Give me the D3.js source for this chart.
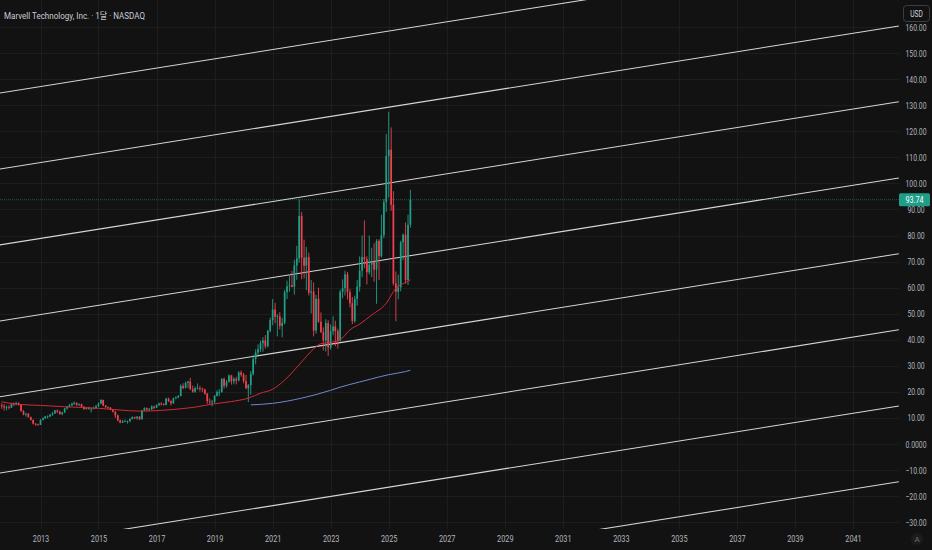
<!DOCTYPE html>
<html><head><meta charset="utf-8">
<script src="https://cdn.jsdelivr.net/npm/d3@7"></script>
<style>
html,body{margin:0;padding:0;background:#121212;overflow:hidden;}
svg{display:block;}
</style></head><body>
<svg id="chart" width="932" height="550"></svg>
<script>
// ---------------- DATA ----------------
const title = "Marvell Technology, Inc. · 1달 · NASDAQ";
const firstMonth = "2011-09-01";
const lastMonth = "2025-10-01";
const openValues = [
  14.9,14.5,14.0,14.2,
  13.9,15.5,15.2,15.7,15.0,12.6,11.3,11.6,10.3,9.2,7.8,7.6,
  7.3,9.3,9.9,10.6,10.6,11.2,11.7,12.9,12.4,11.5,12.1,13.6,
  14.4,14.9,15.4,15.8,15.1,15.3,14.3,13.4,13.9,13.5,13.5,13.8,
  14.5,15.5,16.9,14.7,14.1,13.9,13.2,12.4,11.0,9.1,8.2,8.7,
  8.8,8.8,9.6,10.3,9.9,10.5,9.5,12.9,13.8,13.3,13.3,14.4,
  13.9,14.9,15.5,15.3,15.0,17.4,16.5,15.6,17.6,17.9,18.4,22.3,
  21.5,23.4,23.9,21.0,20.1,21.4,21.4,21.2,20.9,19.3,16.4,16.2,
  16.2,18.5,19.9,19.9,25.0,22.3,23.9,26.3,24.0,25.0,24.4,27.4,
  26.6,24.1,21.4,22.6,26.9,32.6,35.1,36.4,38.7,39.7,37.5,43.4,
  47.5,51.6,48.9,49.0,45.3,46.4,58.3,60.5,60.9,60.3,68.5,71.2,
  87.5,71.4,68.4,71.7,58.1,58.5,43.5,55.7,46.9,42.9,39.7,46.4,
  37.0,43.2,45.1,43.3,39.5,58.4,59.8,65.1,58.3,54.0,47.2,55.7,
  60.3,66.5,71.7,70.9,65.9,68.8,69.9,66.9,77.9,72.1,80.1,92.8,
  110.5,112.9,91.8,61.6,58.4,60.1,77.4,80.3,62.9,84.1
];
const highValues = [
  15.6,15.3,14.8,14.9,
  15.8,16.0,16.2,16.0,15.2,13.0,12.0,11.9,10.5,9.4,8.0,7.8,
  9.5,10.2,10.8,11.0,11.6,12.3,13.1,13.2,12.8,12.3,13.9,14.6,
  15.4,15.9,16.3,16.0,15.6,15.5,14.6,14.2,14.3,13.9,14.3,15.0,
  16.0,17.2,17.0,15.0,14.4,14.2,13.4,12.6,11.3,9.4,9.2,9.4,
  9.0,9.8,10.6,10.5,10.7,10.7,13.1,14.1,14.0,13.8,14.8,14.7,
  15.2,15.9,16.0,15.7,17.8,17.8,16.7,17.8,18.3,18.8,22.9,23.3,
  24.0,24.3,25.4,22.4,22.0,23.2,22.3,21.6,21.2,19.6,17.5,16.9,
  18.8,20.6,21.1,25.2,25.5,24.5,26.7,26.5,25.6,25.8,28.0,28.2,
  27.3,26.5,23.0,28.0,34.2,36.3,38.2,39.7,41.0,41.8,43.8,48.5,
  55.6,54.2,49.9,50.6,48.4,59.2,62.7,65.1,66.4,70.7,76.0,93.9,
  89.0,78.4,75.6,73.4,62.9,62.0,57.2,60.0,50.5,44.8,47.9,47.5,
  45.9,49.0,47.3,44.2,59.2,63.2,66.5,66.0,59.4,56.4,56.9,62.9,
  72.0,80.0,85.8,72.0,80.0,75.3,77.0,78.6,78.6,88.0,94.0,119.0,
  127.5,121.5,97.0,66.2,65.0,78.0,80.8,85.0,88.0,97.5
];
const lowValues = [
  13.5,12.8,12.9,13.3,
  13.8,14.5,14.9,14.7,12.4,11.0,10.5,10.2,9.0,7.5,6.9,7.0,
  7.3,9.0,9.6,9.8,10.3,10.8,11.5,11.9,11.2,11.0,11.9,13.2,
  14.0,14.5,15.0,14.6,14.6,14.0,13.1,13.2,13.2,12.1,13.3,13.4,
  14.1,15.3,14.5,13.8,13.5,13.1,12.1,10.0,8.7,7.9,8.0,8.4,
  7.8,8.3,9.4,9.5,9.3,9.2,9.4,12.6,12.6,12.7,13.0,13.4,
  13.8,14.6,14.8,14.7,14.9,16.1,14.8,15.4,17.1,17.5,18.3,21.0,
  21.3,21.5,20.8,19.7,19.6,20.9,20.1,19.9,18.9,15.4,15.3,14.4,
  15.7,18.2,18.4,19.7,21.3,21.6,23.6,22.8,22.9,22.9,24.0,25.8,
  23.3,21.0,16.1,18.9,26.3,30.6,34.0,35.3,35.4,36.6,37.0,42.8,
  45.5,46.3,41.3,44.0,40.9,45.9,55.6,58.4,60.1,57.3,63.0,69.6,
  63.2,63.5,59.0,57.0,50.1,41.3,42.3,46.5,42.6,35.9,35.5,33.8,
  36.2,41.7,37.5,36.6,39.3,55.9,57.0,55.4,52.4,46.0,46.5,53.1,
  58.5,64.0,67.5,61.2,65.0,64.0,62.3,53.8,63.0,71.5,79.0,89.0,
  94.5,89.5,60.8,47.1,55.5,58.6,70.5,61.5,61.0,83.0
];
const closeValues = [
  14.5,14.0,14.2,13.9,
  15.5,15.2,15.7,15.0,12.6,11.3,11.6,10.3,9.2,7.8,7.6,7.3,
  9.3,9.9,10.6,10.6,11.2,11.7,12.9,12.4,11.5,12.1,13.6,14.4,
  14.9,15.4,15.8,15.1,15.3,14.3,13.4,13.9,13.5,13.5,13.8,14.5,
  15.5,16.9,14.7,14.1,13.9,13.2,12.4,11.0,9.1,8.2,8.7,8.8,
  8.8,9.6,10.3,9.9,10.5,9.5,12.9,13.8,13.3,13.3,14.4,13.9,
  14.9,15.5,15.3,15.0,17.4,16.5,15.6,17.6,17.9,18.4,22.3,21.5,
  23.4,23.9,21.0,20.1,21.4,21.4,21.2,20.9,19.3,16.4,16.2,16.2,
  18.5,19.9,19.9,25.0,22.3,23.9,26.3,24.0,25.0,24.4,27.4,26.6,
  24.1,21.4,22.6,26.9,32.6,35.1,36.4,38.7,39.7,37.5,43.4,47.5,
  51.6,48.9,49.0,45.3,46.4,58.3,60.5,60.9,60.3,68.5,71.2,87.5,
  71.4,68.4,71.7,58.1,58.5,43.5,55.7,46.9,42.9,39.7,46.4,37.0,
  43.2,45.1,43.3,39.5,58.4,59.8,65.1,58.3,54.0,47.2,55.7,60.3,
  66.5,71.7,70.9,65.9,68.8,69.9,66.9,77.9,72.1,80.1,92.8,110.5,
  112.9,91.8,61.6,58.4,60.1,77.4,80.3,62.9,84.1,93.74
];
// moving averages
const redMaDates = ["2011-09","2012-03","2013-01","2013-11","2015-01","2015-09","2016-06","2017-03","2017-12","2018-06","2018-12","2019-08","2020-03","2020-08","2021-01","2021-06","2022-01","2022-06","2022-09","2023-01","2023-05","2023-09","2024-01","2024-06","2024-12","2025-04","2025-08","2025-10"];
const redMaValues = [16.2,15.3,14.8,14.3,13.7,13.1,12.6,12.9,13.6,14.3,15.3,16.3,17.6,19.5,21.0,24.5,31.5,36.5,38.5,39.0,40.0,43.8,46.0,49.5,54.0,59.8,62.0,63.0];
const blueMaDates = ["2020-04","2021-01","2022-01","2023-01","2023-05","2024-01","2024-06","2025-01","2025-08","2025-10"];
const blueMaValues = [15.0,15.6,17.6,20.6,21.8,23.8,25.0,26.6,27.8,28.3];
// parallel channel lines (price at start and end anchor dates)
const channelStartDate = "2011-07-01";
const channelEndDate = "2042-08-01";
const channelStart = [134.5,105.3,76.2,47.0,17.9,-11.3,-40.5,-69.6];
const channelEnd   = [189.6,160.4,131.3,102.1,73.0,43.8,14.6,-14.5];
// axis ticks
const priceTicks = [160,150,140,130,120,110,100,90,80,70,60,50,40,30,20,10,0,-10,-20,-30];
const yearTicks = [2013,2015,2017,2019,2021,2023,2025,2027,2029,2031,2033,2035,2037,2039,2041];
const lastPrice = 93.74;
const currency = "USD";

// ---------------- CHART ----------------
const W = 932, H = 550, plotR = 899, plotB = 529;
const svg = d3.select("#chart");
const parse = d3.timeParse("%Y-%m-%d");
const parseM = d3.timeParse("%Y-%m");
const FONT = "Roboto, 'Noto Sans CJK KR', 'Noto Sans', sans-serif";
const TXT = "#b2b5be";

const x = d3.scaleTime().domain([new Date(2013,0,1), new Date(2041,0,1)]).range([40.5, 853]);
const y = d3.scaleLinear().domain([0,160]).range([444,27]);

svg.append("rect").attr("width",W).attr("height",H).attr("fill","#121212");

const months = d3.timeMonths(parse(firstMonth), d3.timeMonth.offset(parse(lastMonth),1));
const candles = months.map((d,i)=>({date:d,o:openValues[i],h:highValues[i],l:lowValues[i],c:closeValues[i]}));

svg.append("defs").append("clipPath").attr("id","plot")
  .append("rect").attr("x",0).attr("y",0).attr("width",plotR).attr("height",plotB);

// grid
const grid = svg.append("g").attr("clip-path","url(#plot)");
grid.selectAll("line.h").data(priceTicks).join("line")
  .attr("x1",0).attr("x2",plotR).attr("y1",d=>Math.round(y(d))+0.5).attr("y2",d=>Math.round(y(d))+0.5)
  .attr("stroke","#1d1d1d").attr("stroke-width",1);
grid.selectAll("line.v").data(yearTicks).join("line")
  .attr("y1",0).attr("y2",plotB).attr("x1",d=>Math.round(x(new Date(d,0,1)))+0.5).attr("x2",d=>Math.round(x(new Date(d,0,1)))+0.5)
  .attr("stroke","#1d1d1d").attr("stroke-width",1);

const plot = svg.append("g").attr("clip-path","url(#plot)");

// last price line
plot.append("line").attr("x1",0).attr("x2",plotR).attr("y1",y(lastPrice)).attr("y2",y(lastPrice))
  .attr("stroke","#1e9e86").attr("stroke-opacity",0.5).attr("stroke-width",1).attr("stroke-dasharray","1,1");

// channel lines
plot.selectAll("line.ch").data(channelStart).join("line")
  .attr("x1",x(parse(channelStartDate))).attr("x2",x(parse(channelEndDate)))
  .attr("y1",d=>y(d)).attr("y2",(d,i)=>y(channelEnd[i]))
  .attr("stroke","#d6d6d6").attr("stroke-width",1.05);

// candles
const up = "#1fa088", dn = "#f0414f";
const cg = plot.append("g");
cg.selectAll("line.w").data(candles).join("line")
  .attr("x1",d=>x(d.date)).attr("x2",d=>x(d.date))
  .attr("y1",d=>y(d.h)).attr("y2",d=>y(d.l))
  .attr("stroke",d=>d.c>=d.o?up:dn).attr("stroke-width",0.9);
cg.selectAll("rect").data(candles).join("rect")
  .attr("x",d=>x(d.date)-0.85).attr("width",1.7)
  .attr("y",d=>y(Math.max(d.o,d.c))).attr("height",d=>Math.max(0.8,Math.abs(y(d.o)-y(d.c))))
  .attr("fill",d=>d.c>=d.o?up:dn);

// moving averages
const line = d3.line().x(d=>x(d[0])).y(d=>y(d[1])).curve(d3.curveMonotoneX);
plot.append("path").datum(redMaDates.map((d,i)=>[parseM(d),redMaValues[i]]))
  .attr("d",line).attr("fill","none").attr("stroke","#d12a38").attr("stroke-width",1);
plot.append("path").datum(blueMaDates.map((d,i)=>[parseM(d),blueMaValues[i]]))
  .attr("d",line).attr("fill","none").attr("stroke","#7088d0").attr("stroke-width",1);

// y axis
const fmt = d => d===0 ? "0.0000" : (d<0 ? "\u2212"+Math.abs(d).toFixed(2) : d.toFixed(2));
const ya = svg.append("g").attr("transform","translate(916,0)")
  .call(d3.axisRight(y).tickValues(priceTicks).tickFormat(fmt).tickSize(0).tickPadding(0));
ya.select(".domain").remove();
ya.selectAll("text").attr("text-anchor","middle").attr("fill",TXT)
  .attr("font-family",FONT).attr("font-size",9.5).attr("transform","scale(0.72,1)");

// x axis
const xa = svg.append("g").attr("transform","translate(0,535)")
  .call(d3.axisBottom(x).tickValues(yearTicks.map(d=>new Date(d,0,1))).tickFormat(d3.timeFormat("%Y")).tickSize(0).tickPadding(0));
xa.select(".domain").remove();
xa.selectAll("text").attr("fill",TXT).attr("font-family",FONT).attr("font-size",9.5).attr("transform","scale(0.77,1)");

// title
svg.append("text").attr("x",4).attr("y",19).text(title)
  .attr("fill","#c9ccd4").attr("font-family",FONT).attr("font-size",9.5)
  .attr("textLength",141).attr("lengthAdjust","spacingAndGlyphs");

// currency box
svg.append("rect").attr("x",903.5).attr("y",5.5).attr("width",26).attr("height",16).attr("rx",3)
  .attr("fill","#121212").attr("stroke","#3b3e45");
svg.append("text").attr("transform","translate(916.5,16.5) scale(0.78,1)").attr("text-anchor","middle")
  .text(currency).attr("fill","#d1d4dc").attr("font-family",FONT).attr("font-size",8.5);

// last price label
svg.append("rect").attr("x",899).attr("y",y(lastPrice)-6.5).attr("width",31).attr("height",13).attr("rx",1.5)
  .attr("fill","#1e9e86");
svg.append("text").attr("transform",`translate(914.5,${y(lastPrice)+3.3}) scale(0.76,1)`).attr("text-anchor","middle")
  .text(lastPrice.toFixed(2)).attr("fill","#ffffff").attr("font-family",FONT).attr("font-size",9.5);

// auto scale button
svg.append("circle").attr("cx",917).attr("cy",539).attr("r",6).attr("fill","#1c1c1c");
svg.append("text").attr("x",917).attr("y",542).attr("text-anchor","middle").text("A")
  .attr("fill","#6a6d78").attr("font-family",FONT).attr("font-size",8);
</script>
</body></html>
